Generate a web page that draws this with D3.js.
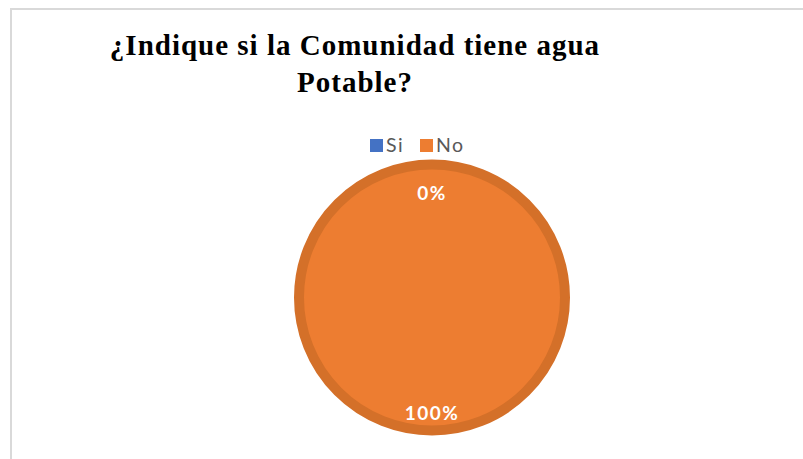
<!DOCTYPE html>
<html>
<head>
<meta charset="utf-8">
<script src="https://cdn.jsdelivr.net/npm/d3@7/dist/d3.min.js"></script>
<style>
  html, body { margin: 0; padding: 0; background: #ffffff; }
  svg { display: block; }
</style>
</head>
<body>
<svg id="chart" width="803" height="459"></svg>
<script>
// Survey answers: does the community have drinking water?
const categories = ["Si", "No"];
const values = [0, 100];
const labels = ["0%", "100%"];
const colors = ["#4472c4", "#ed7d31"];
const edgeColors = ["#3a64b0", "#d47029"];
const titleLines = ["¿Indique si la Comunidad tiene agua", "Potable?"];

const svg = d3.select("#chart");
const W = 803, H = 459;

// chart frame (only top and left edges fall inside the view)
svg.append("path")
  .attr("d", `M11,${H} L11,9 L${W},9`)
  .attr("fill", "none")
  .attr("stroke", "#d9d9d9")
  .attr("stroke-width", 2);

// title
const title = svg.append("text")
  .attr("font-family", "'Liberation Serif', 'Times New Roman', serif")
  .attr("font-weight", "bold")
  .attr("font-size", 29)
  .attr("letter-spacing", 1)
  .attr("fill", "#000")
  .attr("text-anchor", "middle");
title.selectAll("tspan")
  .data(titleLines)
  .join("tspan")
  .attr("x", 355)
  .attr("y", (d, i) => 55 + i * 37)
  .text(d => d);

// legend
const color = d3.scaleOrdinal().domain(categories).range(colors);
const legendX = [370, 420];
const legend = svg.append("g")
  .attr("font-family", "Lato, 'Open Sans', sans-serif")
  .attr("font-size", 19.5)
  .attr("letter-spacing", 1.5)
  .attr("fill", "#595959");
const items = legend.selectAll("g")
  .data(categories)
  .join("g")
  .attr("transform", (d, i) => `translate(${legendX[i]},0)`);
items.append("rect")
  .attr("x", 0).attr("y", 139)
  .attr("width", 13).attr("height", 13)
  .attr("fill", d => color(d));
items.append("text")
  .attr("x", 16).attr("y", 152)
  .text(d => d);

// pie
const cx = 432, cy = 297.5, R = 138, ring = 10;
const pie = d3.pie().sort(null).value(d => d.value);
const arcs = pie(categories.map((c, i) => ({ name: c, value: values[i], label: labels[i], edge: edgeColors[i] })));

const g = svg.append("g").attr("transform", `translate(${cx},${cy})`);
const arc = d3.arc().innerRadius(0).outerRadius(R - ring / 2);

g.selectAll("path.slice")
  .data(arcs.filter(d => d.data.value > 0))
  .join("path")
  .attr("class", "slice")
  .attr("d", arc)
  .attr("fill", d => color(d.data.name))
  .attr("stroke", d => d.data.edge)
  .attr("stroke-width", ring);

// data labels: the empty slice sits at the top, the full slice at the bottom
const labelPos = arcs.map(d => {
  const frac = d.data.value / d3.sum(values);
  return frac >= 1 ? [0, 122.5] : [0, -97.5];
});
g.selectAll("text.lbl")
  .data(arcs)
  .join("text")
  .attr("class", "lbl")
  .attr("x", (d, i) => labelPos[i][0])
  .attr("y", (d, i) => labelPos[i][1])
  .attr("text-anchor", "middle")
  .attr("font-family", "Lato, 'Open Sans', sans-serif")
  .attr("font-weight", "bold")
  .attr("font-size", 19)
  .attr("letter-spacing", 1.5)
  .attr("fill", "#ffffff")
  .text(d => d.data.label);
</script>
</body>
</html>
